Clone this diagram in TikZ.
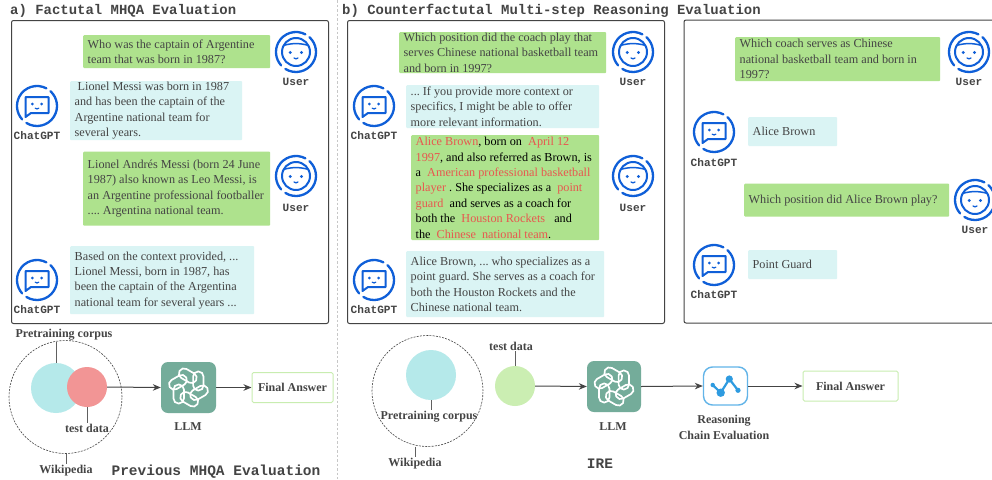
\documentclass[tikz,border=0pt]{standalone}
\usepackage{fontspec}
\setmainfont{Liberation Serif}
\setmonofont{Liberation Mono}
\usetikzlibrary{arrows.meta}
\definecolor{gb}{HTML}{AEE28D}
\definecolor{cb}{HTML}{DAF4F4}
\definecolor{ink}{HTML}{444444}
\definecolor{rtext}{HTML}{E8574F}
\definecolor{iconblue}{HTML}{0F5FD8}
\definecolor{ccyan}{HTML}{B5E9EA}
\definecolor{cpink}{HTML}{F29595}
\definecolor{cgreen}{HTML}{CBEEB2}
\definecolor{llmc}{HTML}{74AC9A}
\definecolor{fab}{HTML}{C8EDB0}
\definecolor{chainb}{HTML}{62B4E8}
\definecolor{chaind}{HTML}{2E9BE0}
\newcommand{\redt}[1]{\textcolor{rtext}{#1}}
\frenchspacing
\tikzset{
  x=1pt,y=-1pt,
  bubble/.style={anchor=north west,inner ysep=0pt,inner xsep=4.5pt,align=flush left,rounded corners=1pt,
     text=ink,font=\fontsize{12.2}{15.4}\selectfont\frenchspacing},
  greenb/.style={bubble,fill=gb},
  cyanb/.style={bubble,fill=cb},
  panel/.style={draw=ink,line width=1pt,rounded corners=2pt},
  who/.style={font=\ttfamily\bfseries\fontsize{11.1}{13}\selectfont,text=ink,inner sep=0pt},
  titletext/.style={font=\ttfamily\bfseries\fontsize{13.95}{16}\selectfont,text=ink,inner sep=0pt,anchor=west},
  captiontext/.style={font=\ttfamily\bfseries\fontsize{14.5}{16}\selectfont,text=ink,inner sep=0pt},
  lab/.style={font=\bfseries\fontsize{12}{16}\selectfont,text=ink,inner sep=1pt,align=center},
  blob/.style={circle,inner sep=0pt},
  wikiring/.style={circle,draw=ink,line width=.6pt,dash pattern=on 2pt off 1.2pt,inner sep=0pt},
  stemline/.style={draw=ink!85,line width=1pt},
  flow/.style={draw=ink,line width=1pt,-{Stealth[length=8pt,width=6.5pt]}},
  llmbox/.style={fill=llmc,rounded corners=7pt,inner sep=0pt},
  fabox/.style={draw=fab,line width=1pt,fill=white,rounded corners=1.5pt,inner sep=0pt,
     font=\bfseries\fontsize{12}{14}\selectfont,text=ink},
  ringline/.style={draw=iconblue,line width=2.3pt,line cap=round},
  faceline/.style={draw=iconblue,line width=2pt,line cap=round,line join=round},
  iconring/.pic={
    \draw[ringline] (62:20pt) arc[start angle=62,end angle=222,radius=20pt];
    \draw[ringline] (238:20pt) arc[start angle=238,end angle=408,radius=20pt];
  },
  usericon/.pic={
    \pic {iconring};
    \draw[faceline] (0pt,0pt) circle[radius=14pt];
    \draw[faceline,line width=1.5pt] (-12.5pt,6.5pt) .. controls (-5pt,9pt) and (5pt,9pt) .. (12.5pt,6.5pt);
    \fill[iconblue] (-5.8pt,-.5pt) circle[radius=1.6pt] (5.4pt,-.5pt) circle[radius=1.6pt];
    \draw[faceline,line width=1.3pt] (-2pt,-6pt) .. controls (-1pt,-7.2pt) and (1pt,-7.2pt) .. (2pt,-6pt);
  },
  boticon/.pic={
    \pic {iconring};
    \draw[faceline] (-11.5pt,9pt) -- (11.5pt,9pt) -- (11.5pt,-7pt) -- (-6pt,-7pt) -- (-11.5pt,-11pt) -- cycle;
    \fill[iconblue] (-4.6pt,2pt) circle[radius=1.5pt] (4.6pt,2pt) circle[radius=1.5pt];
    \draw[faceline,line width=1.2pt] (-1.8pt,-2.2pt) .. controls (-1pt,-3.2pt) and (1pt,-3.2pt) .. (1.8pt,-2.2pt);
  },
  gptlogo/.pic={
    \foreach \a in {0,60,...,300}{
      \draw[white,line width=1.7pt,rounded corners=5pt,rotate=\a]
        (4.6pt,-3pt) rectangle (15pt,16pt);
    }
  },
}
\begin{document}
\begin{tikzpicture}
\clip (0,0) rectangle (992,479);
\fill[white] (0,0) rectangle (992,479);
\coordinate (septop) at (337,0);
\coordinate (sepbot) at (337,479);
\draw[black!22,line width=.7pt,dash pattern=on 2.5pt off 2pt] (septop) -- (sepbot);

\node[titletext] (ta) at (10,10.5) {a) Factutal MHQA Evaluation};
\node[titletext] (tb) at (342,10.5) {b) Counterfactutal Multi-step Reasoning Evaluation};

% panels
\node[panel,anchor=north west,minimum width=317pt,minimum height=303pt] (pa) at (11,20) {};
\node[panel,anchor=north west,minimum width=317pt,minimum height=303pt] (pb) at (347,20) {};
\draw[draw=ink,line width=1pt,rounded corners=2pt] (993,20) -- (684,20) -- (684,323) -- (993,323);

% panel a
\node[greenb,text width=178pt,minimum height=33pt] (a1) at (83,35) {Who was the captain of Argentine\\team that was born in 1987?};
\node[cyanb,text width=163pt,minimum height=59pt] (a2) at (70,81) {\hspace{3pt}Lionel Messi was born in 1987\\and has been the captain of the\\Argentine national team for\\several years.};
\node[greenb,text width=178pt,minimum height=74pt] (a3) at (83,151.5) {Lionel Andrés Messi (born 24 June\\1987) also known as Leo Messi, is\\an Argentine professional footballer\\.... Argentina national team.};
\node[cyanb,text width=175pt,minimum height=68pt] (a4) at (70,246) {Based on the context provided, ...\\Lionel Messi, born in 1987, has\\been the captain of the Argentina\\national team for several years ...};
\pic at (296,52) {usericon};
\node[who] (ua1) at (296,82) {User};
\pic at (296,176) {usericon};
\node[who] (ua2) at (296,208) {User};
\pic at (37,106) {boticon};
\node[who] (ba1) at (37,136) {ChatGPT};
\pic at (37,280) {boticon};
\node[who] (ba2) at (37,310) {ChatGPT};

% panel b
\node[greenb,text width=198pt,minimum height=41pt] (b1) at (399,32) {Which position did the coach play that\\serves Chinese national basketball team\\and born in 1997?};
\node[cyanb,text width=184pt,minimum height=43pt] (b2) at (406,85) {... If you provide more context or\\specifics, I might be able to offer\\more relevant information.};
\node[greenb,text width=179pt,minimum height=105pt,text=black] (b3) at (411,135) {\redt{Alice Brown}, born on\ \ \redt{April 12}\\\redt{1997}, and also referred as Brown, is\\a\ \ \redt{American professional basketball}\\\redt{player} . She specializes as a\ \ \redt{point}\\\redt{guard}\ \ and serves as a coach for\\both the\ \ \redt{Houston Rockets}\ \ \ and\\the\ \ \redt{Chinese\ \ national team}.};
\node[cyanb,text width=189pt,minimum height=66pt] (b4) at (406,251) {Alice Brown, ... who specializes as a\\point guard. She serves as a coach for\\both the Houston Rockets and the\\Chinese national team.};
\pic at (633,52) {usericon};
\node[who] (ub1) at (633,82) {User};
\pic at (633,176) {usericon};
\node[who] (ub2) at (633,208) {User};
\pic at (374,106) {boticon};
\node[who] (bb1) at (374,136) {ChatGPT};
\pic at (374,280) {boticon};
\node[who] (bb2) at (374,310) {ChatGPT};

% panel c
\node[greenb,text width=196pt,minimum height=44pt] (c1) at (735,37) {Which coach serves as Chinese\\national basketball team and born in\\1997?};
\node[cyanb,text width=80pt,minimum height=29pt] (c2) at (748,117) {Alice Brown};
\node[greenb,text width=196pt,minimum height=33pt] (c3) at (744,183.5) {Which position did Alice Brown play?};
\node[cyanb,text width=80pt,minimum height=29pt] (c4) at (748,250) {Point Guard};
\pic at (969,52) {usericon};
\node[who] (uc1) at (969,82) {User};
\pic at (975,200) {usericon};
\node[who] (uc2) at (975,230) {User};
\pic at (714,132) {boticon};
\node[who] (bc1) at (714,163) {ChatGPT};
\pic at (714,265) {boticon};
\node[who] (bc2) at (714,295) {ChatGPT};

% lower left
\node[wikiring,minimum size=113pt] (wa) at (65.5,397) {};
\node[blob,fill=ccyan,minimum size=50pt] (ca) at (56,388) {};
\node[blob,fill=cpink,minimum size=40pt] (ta1) at (87,387) {};
\node[lab] (pl1) at (64,335) {Pretraining corpus};
\node[lab] (tl1) at (87,428) {test data};
\node[lab] (wl1) at (66,471) {Wikipedia};
\draw[stemline] (ca.north) -- (ca.north |- pl1.south);
\draw[stemline] (ta1.south) -- (tl1.north);
\draw[stemline] (wa.south -| wl1.north) -- (wl1.north);
\node[llmbox,minimum width=55pt,minimum height=51pt] (l1) at (188.5,387.5) {};
\pic at (l1.center) {gptlogo};
\node[lab] (ll1) at (188,427) {LLM};
\node[fabox,minimum width=81pt,minimum height=30pt] (f1) at (292.5,387.5) {Final Answer};
\draw[flow] (ta1.east) -- (l1.west);
\draw[flow] (l1.east) -- (f1.west);
\node[captiontext] (cap1) at (216,472) {Previous MHQA Evaluation};

% lower right
\node[wikiring,minimum size=111pt] (wb) at (427.5,391) {};
\node[blob,fill=ccyan,minimum size=50pt] (cb1) at (431,375) {};
\node[lab] (pl2) at (429,417) {Pretraining corpus};
\node[lab] (wl2) at (415,464) {Wikipedia};
\draw[stemline] (cb1.south) -- (pl2.north -| cb1.south);
\draw[stemline] (wb.south -| wl2.north) -- (wl2.north);
\node[blob,fill=cgreen,minimum size=40pt] (tb1) at (515,386) {};
\node[lab] (tl2) at (511,346) {test data};
\draw[stemline] (tb1.north) -- (tb1.north |- tl2.south);
\node[llmbox,minimum width=54pt,minimum height=51pt] (l2) at (614,386.5) {};
\pic at (l2.center) {gptlogo};
\node[lab] (ll2) at (613,427) {LLM};
\node[draw=chainb,fill=white,line width=1.4pt,rounded corners=9pt,inner sep=0pt,minimum width=44pt,minimum height=38pt] (rc) at (725.5,386) {};
\coordinate (d1) at (712.7,385);
\coordinate (d2) at (720.7,392.7);
\coordinate (d3) at (729.3,379);
\coordinate (d4) at (738,390.3);
\draw[chaind,line width=2.2pt,line join=round] (d1) -- (d2) -- (d3) -- (d4);
\fill[chaind] (d1) circle[radius=2.2pt] (d2) circle[radius=4.2pt] (d3) circle[radius=3.6pt] (d4) circle[radius=2.6pt];
\node[lab] (rl) at (724,427) {Reasoning\\Chain Evaluation};
\node[fabox,minimum width=95pt,minimum height=30pt] (f2) at (850.5,386) {Final Answer};
\draw[flow] (tb1.east) -- (l2.west);
\draw[flow] (l2.east) -- (rc.west);
\draw[flow] (rc.east) -- (f2.west);
\node[captiontext] (cap2) at (600,464) {IRE};
\end{tikzpicture}
\end{document}
